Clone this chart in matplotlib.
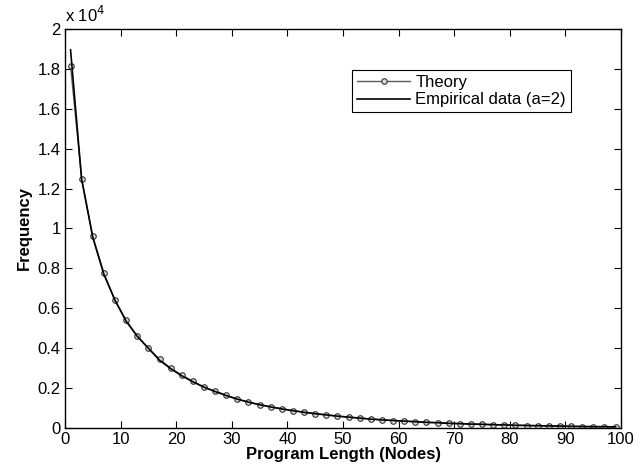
import numpy as np
import matplotlib.pyplot as plt

plt.rcParams['font.family'] = ['Liberation Sans', 'DejaVu Sans']

# program lengths (odd sizes)
lengths = np.arange(1, 100, 2)

# frequencies (units of 1e4)
theory = [1.815, 1.25, 0.96, 0.775, 0.64, 0.54, 0.46, 0.40, 0.345, 0.30,
          0.265, 0.235, 0.205, 0.185, 0.165, 0.145, 0.13, 0.118, 0.107, 0.097,
          0.088, 0.080, 0.073, 0.066, 0.060, 0.055, 0.050, 0.046, 0.042, 0.038,
          0.035, 0.032, 0.029, 0.027, 0.025, 0.023, 0.021, 0.019, 0.017, 0.016,
          0.015, 0.013, 0.012, 0.011, 0.010, 0.009, 0.008, 0.008, 0.007, 0.006]
empirical = [1.895, 1.245, 0.955, 0.77, 0.64, 0.535, 0.46, 0.40, 0.34, 0.298,
             0.262, 0.232, 0.205, 0.183, 0.163, 0.145, 0.13, 0.117, 0.106, 0.096,
             0.087, 0.079, 0.072, 0.066, 0.060, 0.055, 0.050, 0.045, 0.041, 0.038,
             0.035, 0.032, 0.029, 0.027, 0.024, 0.022, 0.020, 0.019, 0.017, 0.016,
             0.014, 0.013, 0.012, 0.011, 0.010, 0.009, 0.008, 0.007, 0.007, 0.006]

theory = np.array(theory) * 1e4
empirical = np.array(empirical) * 1e4

fig = plt.figure(figsize=(6.37, 4.72), dpi=100)
ax = fig.add_axes([0.102, 0.093, 0.873, 0.846])

ax.plot(lengths, theory, color='0.35', lw=1, marker='o', markersize=4,
        markerfacecolor='0.85', markeredgecolor='0.2', markeredgewidth=0.8,
        label='Theory')
ax.plot(lengths, empirical, color='black', lw=1.2, label='Empirical data (a=2)')

ax.set_xlim(0, 100)
ax.set_ylim(0, 2e4)
ax.set_xticks(np.arange(0, 101, 10))
ax.set_yticks(np.arange(0, 2.01e4, 0.2e4))
ax.set_yticklabels(['0', '0.2', '0.4', '0.6', '0.8', '1', '1.2', '1.4', '1.6', '1.8', '2'])
ax.tick_params(direction='in', top=True, right=True, labelsize=12, length=5, pad=3)
for s in ax.spines.values():
    s.set_linewidth(1)
ax.text(0.0, 1.01, r'x 10$^4$', transform=ax.transAxes, fontsize=12, ha='left', va='bottom')

ax.set_xlabel('Program Length (Nodes)', fontsize=12, fontweight='bold', labelpad=0)
ax.set_ylabel('Frequency', fontsize=12, fontweight='bold', labelpad=4)

leg = ax.legend(loc='upper left', bbox_to_anchor=(0.516, 0.897), fontsize=12,
                fancybox=False, framealpha=1, edgecolor='black',
                handlelength=3.2, borderpad=0.3, labelspacing=0.15, handletextpad=0.3,
                borderaxespad=0)
leg.get_frame().set_linewidth(0.8)

fig.savefig('out.png', dpi=100)
